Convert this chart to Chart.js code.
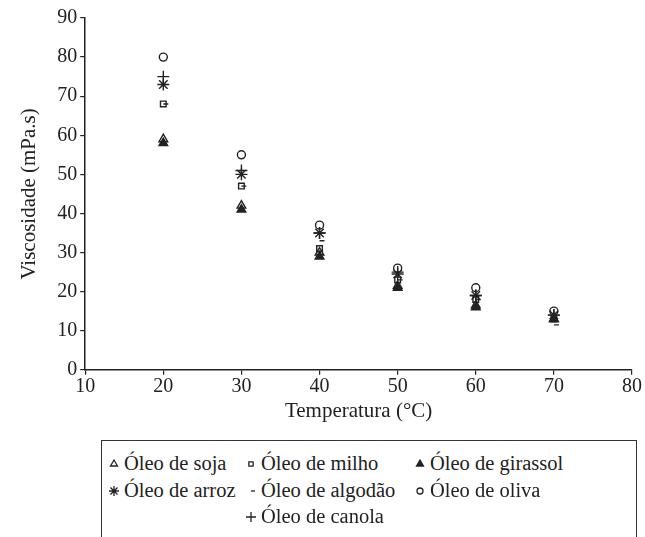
<!DOCTYPE html>
<html>
<head>
<meta charset="utf-8">
<script src="https://cdn.jsdelivr.net/npm/chart.js@4/dist/chart.umd.min.js"></script>
<style>
  body { margin: 0; background: #fff; }
  #wrap { position: relative; width: 645px; height: 537px; overflow: hidden; }
  #chartBox { position: absolute; left: 0; top: 0; width: 645px; height: 428px; }
  #legend {
    position: absolute; left: 101px; top: 440px; width: 536px; height: 110px;
    border: 1.5px solid #333; box-sizing: border-box;
    font-family: 'Liberation Serif', 'Times New Roman', 'DejaVu Serif', serif; font-size: 20.5px; color: #222;
  }
  .item { position: absolute; display: flex; align-items: center; white-space: nowrap; line-height: 25px; }
  .item canvas { margin-right: 4px; }
</style>
</head>
<body>
<div id="wrap">
  <div id="chartBox"><canvas id="viscChart"></canvas></div>
  <div id="legend"></div>
</div>
<script>
// Temperature (°C)
const temps = [20, 30, 40, 50, 60, 70];

// Viscosity (mPa.s) per oil
const soja     = [59, 42, 30, 21.5, 16.5, 13];
const milho    = [68, 47, 31, 23, 18, 13];
const girassol = [58, 41, 29, 21, 16, 13];
const arroz    = [73, 50, 35, 24.5, 19, 14];
const algodao  = [68, 47, 33, 23, 18, 11.5];
const oliva    = [80, 55, 37, 26, 21, 15];
const canola   = [75, 51, 35, 25, 19, 14];

const xTicks = [10, 20, 30, 40, 50, 60, 70, 80];
const yTicks = [0, 10, 20, 30, 40, 50, 60, 70, 80, 90];

const ink = '#222';
const serif = "'Liberation Serif', 'Times New Roman', 'DejaVu Serif', serif";

const toPoints = (vals) => vals.map((v, i) => ({ x: temps[i], y: v }));

const series = [
  { label: 'Óleo de soja',     data: soja,     style: 'triangle', r: 5, fill: false },
  { label: 'Óleo de milho',    data: milho,    style: 'rect',     r: 4, fill: false },
  { label: 'Óleo de girassol', data: girassol, style: 'triangle', r: 5, fill: true  },
  { label: 'Óleo de arroz',    data: arroz,    style: 'star',     r: 6, fill: false },
  { label: 'Óleo de algodão',  data: algodao,  style: 'dash',     r: 5, fill: false },
  { label: 'Óleo de oliva',    data: oliva,    style: 'circle',   r: 4, fill: false },
  { label: 'Óleo de canola',   data: canola,   style: 'cross',    r: 6, fill: false }
];

// legend grid positions (col, row)
const legendSlots = [[0, 0], [1, 0], [2, 0], [0, 1], [1, 1], [2, 1], [1, 2]];
const colX = [6, 143, 312];
const rowY = [10, 37, 63];

const datasets = series.map(s => ({
  label: s.label,
  data: toPoints(s.data),
  showLine: false,
  pointStyle: s.style,
  pointRadius: s.r,
  pointHoverRadius: s.r,
  pointBorderWidth: 1.4,
  pointBorderColor: ink,
  pointBackgroundColor: s.fill ? ink : 'rgba(255,255,255,0)'
}));

new Chart(document.getElementById('viscChart'), {
  type: 'scatter',
  data: { datasets },
  options: {
    responsive: true,
    maintainAspectRatio: false,
    animation: false,
    layout: { padding: { top: 18, right: 13, left: 13, bottom: 0 } },
    plugins: {
      legend: { display: false },
      tooltip: { enabled: false }
    },
    scales: {
      x: {
        type: 'linear',
        min: 10, max: 80,
        afterBuildTicks: (axis) => { axis.ticks = xTicks.map(v => ({ value: v })); },
        grid: { display: true, drawOnChartArea: false, drawTicks: true, tickLength: 5, color: ink, lineWidth: 1.2 },
        border: { display: true, color: ink, width: 1.5 },
        ticks: { color: ink, font: { family: serif, size: 20 }, padding: 0 },
        title: { display: true, text: 'Temperatura (°C)', color: ink, font: { family: serif, size: 21 }, padding: { top: 0 } }
      },
      y: {
        min: 0, max: 90,
        afterBuildTicks: (axis) => { axis.ticks = yTicks.map(v => ({ value: v })); },
        grid: { display: true, drawOnChartArea: false, drawTicks: true, tickLength: 5, color: ink, lineWidth: 1.2 },
        border: { display: true, color: ink, width: 1.5 },
        ticks: { color: ink, font: { family: serif, size: 20 }, padding: 3 },
        title: { display: true, text: 'Viscosidade (mPa.s)', color: ink, font: { family: serif, size: 21 }, padding: { bottom: 12 } }
      }
    }
  }
});

// HTML legend built from the same series
function drawSymbol(cv, s) {
  const ctx = cv.getContext('2d');
  ctx.strokeStyle = ink;
  ctx.fillStyle = s.fill ? ink : 'rgba(255,255,255,0)';
  ctx.lineWidth = 1.3;
  const opts = { pointStyle: s.style, radius: s.r - 1, borderWidth: 1.3, rotation: 0 };
  if (Chart.helpers && Chart.helpers.drawPoint) {
    Chart.helpers.drawPoint(ctx, opts, cv.width / 2, cv.height / 2);
  }
}

const legendEl = document.getElementById('legend');
series.forEach((s, i) => {
  const [c, r] = legendSlots[i];
  const item = document.createElement('div');
  item.className = 'item';
  item.style.left = colX[c] + 'px';
  item.style.top = rowY[r] + 'px';
  const cv = document.createElement('canvas');
  cv.width = 12; cv.height = 12;
  drawSymbol(cv, s);
  const span = document.createElement('span');
  span.textContent = s.label;
  item.appendChild(cv);
  item.appendChild(span);
  legendEl.appendChild(item);
});
</script>
</body>
</html>
